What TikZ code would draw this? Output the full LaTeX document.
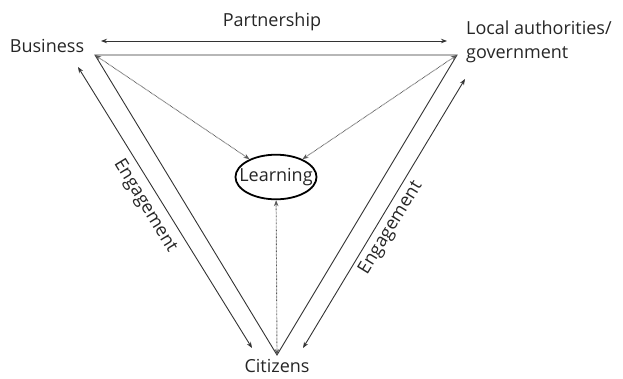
\documentclass[tikz,border=0pt]{standalone}
\usepackage{fontspec}
\setmainfont{Open Sans}
\usetikzlibrary{arrows.meta,shapes.geometric}
\begin{document}
\begin{tikzpicture}[x=1pt,y=-1pt,
  lbl/.style={font=\fontsize{18}{24}\selectfont, text=black!85, inner sep=0pt},
  edge/.style={draw=black!80, line width=0.9pt},
  twoway/.style={edge, {Stealth[length=6pt,width=4.5pt]}-{Stealth[length=6pt,width=4.5pt]}},
  dotlink/.style={draw=black!65, line width=0.9pt, dash pattern=on 0.7pt off 0.7pt,
    {Stealth[length=6pt,width=4.5pt]}-{Stealth[length=6pt,width=4.5pt]}},
  hub/.style={lbl, ellipse, draw=black, line width=1.8pt, inner xsep=-8pt, inner ysep=7pt}
]
\useasboundingbox (0,0) rectangle (623,378);

% labels
\node[lbl] (business) at (47,46) {Business};
\node[lbl, align=left, anchor=west] (local) at (466,42) {Local authorities/\\government};
\node[lbl] (citizens) at (277,366) {Citizens};
\node[lbl] (partner) at (272,22) {Partnership};
\node[lbl, rotate=-58.5] (engl) at (145,206) {Engagement};
\node[lbl, rotate=58.5] (engr) at (391,228) {Engagement};

% central concept
\node[hub] (learning) at (276,177) {Learning};

% triangle corners
\coordinate (vb) at (95,55);
\coordinate (vl) at (457,55);
\coordinate (vc) at (277,355);

% ends of the outer arrows
\coordinate (pl) at (101,41);
\coordinate (pr) at (447,41);
\coordinate (el1) at (78,67);
\coordinate (el2) at (252,348);
\coordinate (er1) at (465,79);
\coordinate (er2) at (303,348);

% triangle
\draw[edge] (vb) -- (vl) -- (vc) -- cycle;

% outer two-way arrows
\draw[twoway] (pl) -- (pr);
\draw[twoway] (el1) -- (el2);
\draw[twoway] (er1) -- (er2);

% links to learning
\draw[dotlink] (vb) -- (learning);
\draw[dotlink] (vl) -- (learning);
\draw[dotlink] (vc) -- (learning);
\end{tikzpicture}
\end{document}
